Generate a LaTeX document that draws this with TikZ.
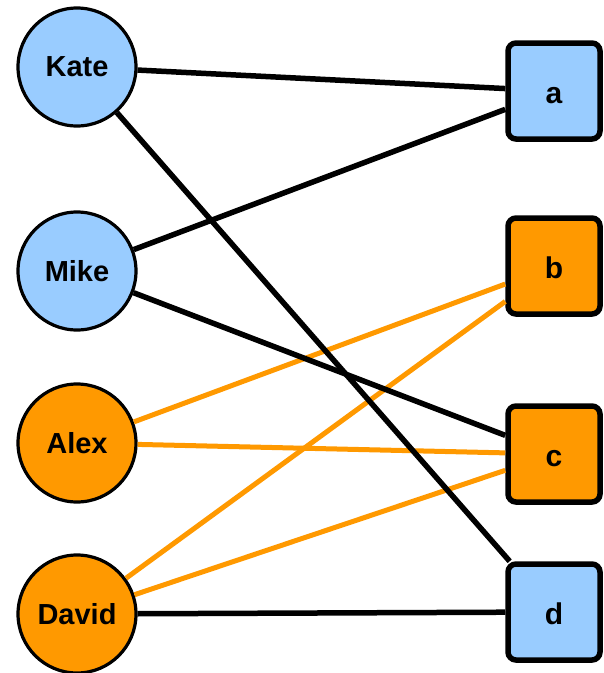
\documentclass[tikz,border=0pt]{standalone}
\usepackage{fontspec}
\setmainfont{Liberation Sans}
\definecolor{lblue}{HTML}{99CCFF}
\definecolor{orng}{HTML}{FF9900}
\begin{document}
\begin{tikzpicture}[x=1pt,y=-1pt,
  person/.style={circle,draw=black,line width=3.2pt,minimum size=118pt,inner sep=0pt,font=\fontsize{29}{34}\selectfont\bfseries},
  item/.style={rectangle,rounded corners=8pt,draw=black,line width=5.5pt,minimum width=92pt,minimum height=96pt,inner sep=0pt,text height=24pt,text depth=0pt,font=\fontsize{30}{34}\selectfont\bfseries},
  blk/.style={draw=black,line width=5.5pt},
  org/.style={draw=orng,line width=5pt}]
\useasboundingbox (0,0) rectangle (604,673);
\node[person,fill=lblue] (kate) at (77,67) {Kate};
\node[person,fill=lblue] (mike) at (77,271) {Mike};
\node[person,fill=orng] (alex) at (77,443) {Alex};
\node[person,fill=orng] (david) at (77,614) {David};
\node[item,fill=lblue] (a) at (554,91) {a};
\node[item,fill=orng] (b) at (554,266) {b};
\node[item,fill=orng] (c) at (554,454) {c};
\node[item,fill=lblue] (d) at (554,612) {d};
\draw[org] (alex) -- (b);
\draw[org] (alex) -- (c);
\draw[org] (david) -- (b);
\draw[org] (david) -- (c);
\draw[blk] (kate) -- (a);
\draw[blk] (kate) -- (d);
\draw[blk] (mike) -- (a);
\draw[blk] (mike) -- (c);
\draw[blk] (david) -- (d);
\end{tikzpicture}
\end{document}
